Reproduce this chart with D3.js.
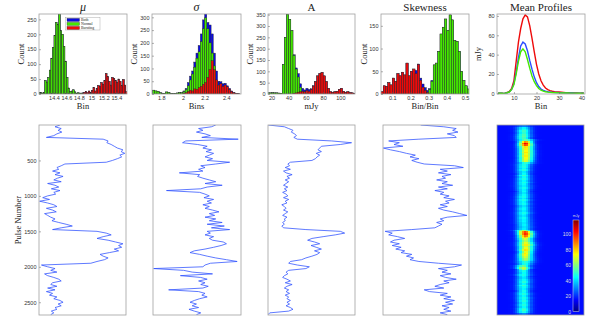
<!DOCTYPE html>
<html lang="en">
<head>
<meta charset="UTF-8">
<title>Pulse parameters: normal and bursting modes</title>
<script src="https://d3js.org/d3.v7.min.js"></script>
<style>
  body { margin: 0; background: #fff; }
  svg { display: block; }
  .tick text { font-family: "Liberation Sans", Arial, sans-serif; font-size: 5.5px; fill: #333; }
  .tick line { stroke: #666; stroke-width: 0.5; }
  .domain { display: none; }
  .frame { fill: none; stroke: #a0a0a0; stroke-width: 0.8; }
  .lbl { font-family: "Liberation Serif", "DejaVu Serif", serif; fill: #222; }
</style>
</head>
<body>
<svg id="chart" width="598" height="330"></svg>
<script>
// ---- histogram data (counts per bin) ----
const muBinStart = 14.15, muBinWidth = 0.025;
const muBoth     = [4,5,3,6,45,40,55,80,120,155,195,240,232,268,212,200,160,110,55,20,8,10,14,7,3,4,2,3,4,5,8,4,10,6,12,22,10,18,28,25,38,32,45,68,58,42,30,55,52,45,38,50,42,28,48,30,8];
const muNormal   = [4,5,3,6,45,40,55,80,120,155,195,240,232,268,212,200,160,110,55,20,8,10,14,7,3,4,2,3,1,0,0,0,0,0,0,0,0,0,0,0,0,0,0,0,0,0,0,0,0,0,0,0,0,0,0,0,0];
const muBursting = [0,0,0,0,0,0,0,0,0,0,0,0,0,0,0,0,0,0,0,0,0,0,0,0,0,0,0,0,3,5,8,4,10,6,12,22,10,18,28,25,38,32,45,68,58,42,30,55,52,45,38,50,42,28,48,30,8];

const sigBinStart = 1.70, sigBinWidth = 0.02;
const sigBoth     = [0,15,12,10,5,2,3,8,6,2,1,2,4,6,5,12,22,45,70,90,125,160,190,235,290,313,280,270,235,160,90,50,48,40,42,32,22,12,6,3,1,0];
const sigNormal   = [0,15,12,10,5,2,3,8,6,2,1,2,4,6,5,10,18,32,55,78,105,140,165,205,255,298,255,200,160,110,50,25,12,8,5,3,2,1,0,0,0,0];
const sigBursting = [0,0,0,0,0,0,0,0,0,0,0,0,0,0,0,3,5,10,15,12,20,18,25,30,38,45,65,95,130,95,55,35,40,30,35,28,18,10,5,3,1,0];

const ampBinStart = 15, ampBinWidth = 2.5;
const ampBoth     = [5,5,6,5,5,4,3,130,250,352,330,280,173,115,90,45,25,18,25,20,23,37,55,80,90,95,80,55,25,10,8,10,12,20,25,12,8,10,6,5,3];
const ampNormal   = [5,5,6,5,5,4,3,130,250,352,330,280,170,110,75,30,10,5,8,5,3,2,0,0,0,0,0,0,0,0,0,0,0,0,0,0,0,0,0,0,0];
const ampBursting = [0,0,0,0,0,0,0,0,0,0,0,0,3,5,8,10,12,10,15,12,20,35,55,80,90,95,80,55,25,10,8,10,12,20,25,12,8,10,6,5,3];

const skwBinStart = 0.0375, skwBinWidth = 0.0125;
const skwBoth     = [5,18,17,25,20,35,28,45,40,48,42,68,40,50,55,52,66,35,22,14,8,12,30,64,68,94,132,147,165,140,174,163,118,116,94,50,30,18,11,0];
const skwNormal   = [0,0,0,0,0,0,0,0,0,0,0,0,0,0,0,0,0,0,0,0,4,10,28,64,68,94,132,147,165,140,174,163,118,116,94,50,30,18,11,0];
const skwBursting = [5,18,17,25,20,35,28,45,40,48,42,68,40,50,55,45,65,30,15,8,3,0,0,0,0,0,0,0,0,0,0,0,0,0,0,0,0,0,0,0];

// ---- mean profiles (mJy per phase bin) ----
const profileBins     = d3.range(3, 42);
const profileBoth     = [0,0,0,0.2,0.6,1.5,4,10,22,37,49,53,51,44,34,25,17,11,7,4.5,3,2.2,1.7,1.3,1,0.9,0.8,0.7,0.6,0.5,0.4,0.4,0.3,0.3,0.2,0.2,0.2,0.1,0.1];
const profileNormal   = [0,0,0,0.2,0.6,1.5,4,9,20,33,43,46,43,35,26,18,12,8,5,3.2,2.2,1.6,1.2,1,0.8,0.7,0.6,0.5,0.4,0.4,0.3,0.3,0.2,0.2,0.2,0.1,0.1,0.1,0.1];
const profileBursting = [0,0,0,0.2,0.8,2,5,13,33,53,67,77,81,79,70,57,43,30,20,13,8.5,5.5,3.8,2.8,2.2,1.8,1.5,1.3,1.1,0.9,0.7,0.6,0.5,0.4,0.3,0.3,0.2,0.2,0.2];

// ---- per-pulse Gaussian fit parameters (every 25th pulse) ----
const pulseNumber = d3.range(0, 2700, 25);
const pulseMu = [14.50,14.42,14.52,14.47,14.53,14.45,14.40,14.28,15.20,15.28,
  15.26,15.33,15.38,15.43,15.52,15.49,15.55,15.47,15.50,15.43,
  15.35,15.25,14.58,14.52,14.45,14.48,14.38,14.50,14.42,14.55,
  14.46,14.40,14.52,14.30,14.42,14.48,14.36,14.50,14.40,14.43,
  14.30,14.22,14.33,14.17,14.30,14.40,14.45,14.28,14.38,14.44,
  14.25,14.30,14.35,14.42,14.37,14.48,14.60,14.70,14.52,14.38,
  15.10,15.25,15.33,15.20,15.10,15.28,15.40,15.52,15.45,15.50,
  15.38,15.45,15.30,15.15,15.20,15.28,15.22,15.10,15.00,14.20,
  14.30,14.42,14.35,14.45,14.25,14.30,14.40,14.48,14.52,14.38,
  14.35,14.45,14.30,14.42,14.28,14.38,14.33,14.45,14.40,14.50,
  14.55,14.47,14.52,14.42,14.45,14.36,14.40,14.35];
const pulseSigma = [2.30,2.26,2.14,2.18,2.12,2.20,2.25,2.17,2.51,2.02,
  1.99,2.13,2.22,2.18,2.26,2.21,2.28,2.24,2.20,2.27,
  2.22,2.43,2.30,2.16,2.20,2.14,2.18,1.96,2.15,2.13,
  2.18,2.24,2.30,2.20,2.36,2.22,2.16,1.84,2.15,2.20,
  2.24,2.19,2.28,2.22,2.26,2.18,2.24,2.20,2.27,2.33,
  2.24,2.29,2.20,2.30,2.24,2.36,2.22,2.38,2.26,2.43,
  2.22,2.25,2.20,2.28,2.24,2.27,2.37,2.40,2.35,2.28,
  2.20,2.10,2.06,2.15,2.22,2.30,2.40,2.50,2.25,2.20,
  2.18,1.72,2.00,2.08,2.27,1.97,2.16,2.22,2.14,2.20,
  2.16,2.23,2.18,1.86,2.14,2.20,2.17,2.22,2.15,2.10,
  2.06,2.12,2.08,2.14,2.05,2.10,2.16,2.12];
const pulseAmp = [16.5,35,40,45,43,47,49,46,50,90,
  113,100,78,76,74,78,72,76,73,71,
  67,42,39,41,36,42,34,37,44,38,
  41,36,40,37,34,39,35,38,33,37,
  39,34,40,36,38,32,35,37,34,39,
  36,33,38,35,36,33,35,32,34,60,
  100,105,94,80,67,62,70,76,66,72,
  78,70,76,73,67,60,55,42,40,50,
  64,60,40,37,39,35,33,38,42,36,
  44,38,35,40,37,41,36,40,38,42,
  38,41,37,42,45,40,18,16];
const pulseSkew = [0.25,0.38,0.45,0.43,0.46,0.40,0.44,0.45,0.24,0.07,
  0.13,0.10,0.15,0.04,0.08,0.13,0.17,0.22,0.19,0.24,
  0.20,0.23,0.27,0.44,0.49,0.36,0.40,0.35,0.42,0.37,
  0.39,0.34,0.40,0.37,0.43,0.35,0.40,0.33,0.38,0.36,
  0.41,0.38,0.44,0.39,0.41,0.36,0.40,0.35,0.38,0.43,
  0.47,0.51,0.40,0.36,0.38,0.34,0.37,0.35,0.33,0.20,
  0.05,0.09,0.07,0.12,0.16,0.10,0.08,0.13,0.09,0.14,
  0.11,0.16,0.14,0.20,0.17,0.21,0.19,0.24,0.35,0.48,
  0.44,0.35,0.40,0.37,0.42,0.36,0.39,0.45,0.38,0.41,
  0.36,0.33,0.38,0.27,0.30,0.40,0.36,0.42,0.38,0.44,
  0.39,0.43,0.37,0.41,0.38,0.42,0.36,0.40];

const offPulseLevel = 16;   // mJy, background of the pulse stack
const stackGain = 0.8;      // fitted amplitude -> image intensity
const colorMax = 118;
const colorTicks = [0, 20, 40, 60, 80, 100];
const pulseTicks = [500, 1000, 1500, 2000, 2500];
const modeNames = ["Both", "Normal", "Bursting"];

// ---- layout ----
const svg = d3.select("#chart");
const C = { both: "#0a0ae0", normal: "#44e800", burst: "#ee0a0a", line: "#2a4dff" };
const topY = [14, 94], botY = [125, 315];
const topX = [[39,127],[152,241],[268,355],[381,469],[497,585]];
const botX = [[39,126],[153,241],[268,355],[383,469],[497,584]];

function box(xr, yr) { return { x0: xr[0], x1: xr[1], y0: yr[0], y1: yr[1] }; }
function clip(id, b) {
  svg.append("clipPath").attr("id", id).append("rect")
    .attr("x", b.x0).attr("y", b.y0).attr("width", b.x1 - b.x0).attr("height", b.y1 - b.y0);
  return `url(#${id})`;
}
function frame(b) {
  svg.append("rect").attr("class", "frame")
    .attr("x", b.x0).attr("y", b.y0).attr("width", b.x1 - b.x0).attr("height", b.y1 - b.y0);
}
function text(x, y, s, size, opts = {}) {
  const t = svg.append("text").attr("class", "lbl").attr("x", x).attr("y", y)
    .attr("font-size", size).attr("text-anchor", opts.anchor || "middle").text(s);
  if (opts.italic) t.attr("font-style", "italic");
  if (opts.rotate) t.attr("transform", `rotate(-90,${x},${y})`);
  return t;
}
function axes(b, x, y, xTicks, yTicks) {
  svg.append("g").attr("transform", `translate(0,${b.y1})`)
    .call(d3.axisBottom(x).tickValues(xTicks).tickSize(-2).tickPadding(2.5).tickFormat(d3.format("")));
  svg.append("g").attr("transform", `translate(${b.x0},0)`)
    .call(d3.axisLeft(y).tickValues(yTicks).tickSize(-2).tickPadding(2.5).tickFormat(d3.format("")));
}

function histPanel(k, cfg) {
  const b = box(topX[k], topY);
  const x = d3.scaleLinear().domain(cfg.xDomain).range([b.x0, b.x1]);
  const y = d3.scaleLinear().domain(cfg.yDomain).range([b.y1, b.y0]);
  const g = svg.append("g").attr("clip-path", clip("hc" + k, b));
  cfg.series.forEach(s => {
    const bins = s.counts.map((c, i) => ({ c, lo: cfg.start + i * cfg.width })).filter(d => d.c > 0);
    g.append("g").selectAll("rect").data(bins).join("rect")
      .attr("x", d => x(d.lo)).attr("width", d => x(d.lo + cfg.width) - x(d.lo))
      .attr("y", d => y(d.c)).attr("height", d => y(0) - y(d.c))
      .attr("fill", s.color).attr("stroke", "#2a2a2a").attr("stroke-width", 0.4);
  });
  frame(b);
  axes(b, x, y, cfg.xTicks, cfg.yTicks);
  const cx = (b.x0 + b.x1) / 2;
  text(cx, 11, cfg.title, cfg.italic ? 12 : 11, { italic: cfg.italic });
  text(cx, 109, cfg.xLabel, 8.5);
  text(cfg.yLabelX, 54, "Count", 8.5, { rotate: true });
  return b;
}

const series3 = (both, normal, burst) => [
  { counts: both, color: C.both }, { counts: normal, color: C.normal }, { counts: burst, color: C.burst }];

histPanel(0, { xDomain: [14.16, 15.57], yDomain: [0, 268], start: muBinStart, width: muBinWidth,
  series: series3(muBoth, muNormal, muBursting), xTicks: [14.4, 14.6, 14.8, 15, 15.2, 15.4],
  yTicks: [0, 50, 100, 150, 200, 250], title: "μ", italic: true, xLabel: "Bin", yLabelX: 24 });
histPanel(1, { xDomain: [1.714, 2.536], yDomain: [0, 313], start: sigBinStart, width: sigBinWidth,
  series: series3(sigBoth, sigNormal, sigBursting), xTicks: [1.8, 2, 2.2, 2.4],
  yTicks: [0, 50, 100, 150, 200, 250, 300], title: "σ", italic: true, xLabel: "Bins", yLabelX: 137 });
histPanel(2, { xDomain: [16, 117], yDomain: [0, 353], start: ampBinStart, width: ampBinWidth,
  series: series3(ampBoth, ampNormal, ampBursting), xTicks: [20, 40, 60, 80, 100],
  yTicks: [0, 50, 100, 150, 200, 250, 300, 350], title: "A", xLabel: "mJy", yLabelX: 253 });
histPanel(3, { xDomain: [0.038, 0.522], yDomain: [0, 176], start: skwBinStart, width: skwBinWidth,
  series: series3(skwBoth, skwNormal, skwBursting), xTicks: [0.1, 0.2, 0.3, 0.4, 0.5],
  yTicks: [0, 50, 100, 150], title: "Skewness", xLabel: "Bin/Bin", yLabelX: 367 });

// legend in the first panel
const lg = svg.append("g");
lg.append("rect").attr("x", 65.7).attr("y", 17.3).attr("width", 34.3).attr("height", 12.7)
  .attr("fill", "#fff").attr("stroke", "#999").attr("stroke-width", 0.4);
[C.both, C.normal, C.burst].forEach((col, i) => {
  lg.append("rect").attr("x", 67).attr("y", 18.4 + i * 4).attr("width", 12.5).attr("height", 3.1)
    .attr("fill", col).attr("stroke", "#222").attr("stroke-width", 0.3);
  lg.append("text").attr("class", "lbl").attr("x", 81).attr("y", 21 + i * 4)
    .attr("font-size", 3.8).attr("fill", "#555").text(modeNames[i]);
});

// mean profiles
{
  const b = box(topX[4], topY);
  const x = d3.scaleLinear().domain([2.5, 41.5]).range([b.x0, b.x1]);
  const y = d3.scaleLinear().domain([-0.7, 82]).range([b.y1, b.y0]);
  const g = svg.append("g").attr("clip-path", clip("pc", b));
  const line = d3.line().x((d, i) => x(profileBins[i])).y(d => y(d));
  [[profileBursting, C.burst], [profileBoth, C.line], [profileNormal, C.normal]].forEach(([p, col]) => {
    g.append("path").attr("d", line(p)).attr("fill", "none").attr("stroke", col).attr("stroke-width", 1.4);
  });
  frame(b);
  axes(b, x, y, [10, 20, 30, 40], [0, 20, 40, 60, 80]);
  text((b.x0 + b.x1) / 2, 11, "Mean Profiles", 11);
  text((b.x0 + b.x1) / 2, 109, "Bin", 8.5);
  text(481, 54, "mJy", 8.5, { rotate: true });
}

// ---- bottom row: parameters against pulse number ----
const yPulse = d3.scaleLinear().domain([0, 2680]);
const botCfg = [
  { vals: pulseMu, dom: [14.16, 15.57] },
  { vals: pulseSigma, dom: [1.714, 2.536] },
  { vals: pulseAmp, dom: [16, 117] },
  { vals: pulseSkew, dom: [0.038, 0.522] }
];
botCfg.forEach((cfg, k) => {
  const b = box(botX[k], botY);
  const x = d3.scaleLinear().domain(cfg.dom).range([b.x0, b.x1]);
  const y = yPulse.copy().range([b.y0, b.y1]);
  const g = svg.append("g").attr("clip-path", clip("bc" + k, b));
  g.append("path")
    .attr("d", d3.line().x(d => x(d)).y((d, i) => y(pulseNumber[i]))(cfg.vals))
    .attr("fill", "none").attr("stroke", C.line).attr("stroke-width", 0.75);
  frame(b);
  if (k === 0) {
    svg.append("g").attr("transform", `translate(${b.x0},0)`)
      .call(d3.axisLeft(y).tickValues(pulseTicks).tickSize(-2).tickPadding(2.5).tickFormat(d3.format("d")));
    text(21, (b.y0 + b.y1) / 2, "Pulse Number", 8.5, { rotate: true });
  }
});

// pulse stack image: each row is the Gaussian fitted to that pulse
{
  const b = box(botX[4], botY);
  const x = d3.scaleLinear().domain([2.5, 41.5]).range([b.x0, b.x1]);
  const y = yPulse.copy().range([b.y0, b.y1]);
  const jet = d3.scaleLinear()
    .domain([0, 0.125, 0.375, 0.625, 0.875, 1].map(t => t * colorMax))
    .range(["#00007f", "#0000ff", "#00ffff", "#ffff00", "#ff0000", "#7f0000"]).clamp(true);
  const cells = [];
  pulseNumber.forEach((p, i) => {
    profileBins.forEach(bin => {
      const z = (bin - pulseMu[i]) / pulseSigma[i];
      cells.push({ p, bin, v: offPulseLevel + stackGain * pulseAmp[i] * Math.exp(-0.5 * z * z) });
    });
  });
  const g = svg.append("g").attr("clip-path", clip("ic", b)).attr("shape-rendering", "crispEdges");
  g.selectAll("rect").data(cells).join("rect")
    .attr("x", d => x(d.bin - 0.5)).attr("width", d => x(d.bin + 0.5) - x(d.bin - 0.5) + 0.5)
    .attr("y", d => y(d.p)).attr("height", d => y(d.p + 25) - y(d.p) + 0.5)
    .attr("fill", d => jet(d.v));
  frame(b);

  // colour bar
  const cb = { x0: 573, x1: 579, y0: 220, y1: 311.5 };
  const cy = d3.scaleLinear().domain([0, colorMax]).range([cb.y1, cb.y0]);
  const grad = svg.append("defs").append("linearGradient").attr("id", "jetgrad")
    .attr("x1", 0).attr("y1", 1).attr("x2", 0).attr("y2", 0);
  jet.domain().forEach(v => grad.append("stop").attr("offset", v / colorMax).attr("stop-color", jet(v)));
  svg.append("rect").attr("x", cb.x0).attr("y", cb.y0).attr("width", cb.x1 - cb.x0).attr("height", cb.y1 - cb.y0)
    .attr("fill", "url(#jetgrad)").attr("stroke", "#ddd").attr("stroke-width", 0.5);
  const ax = svg.append("g").attr("transform", `translate(${cb.x0},0)`)
    .call(d3.axisLeft(cy).tickValues(colorTicks).tickSize(0).tickPadding(2));
  ax.selectAll("text").style("fill", "#ddd").style("font-size", "5px");
  svg.append("text").attr("x", 576).attr("y", 217).attr("text-anchor", "middle")
    .attr("font-family", "Liberation Sans, sans-serif").attr("font-size", 3.5).attr("fill", "#ddd").text("mJy");
}
</script>
</body>
</html>
